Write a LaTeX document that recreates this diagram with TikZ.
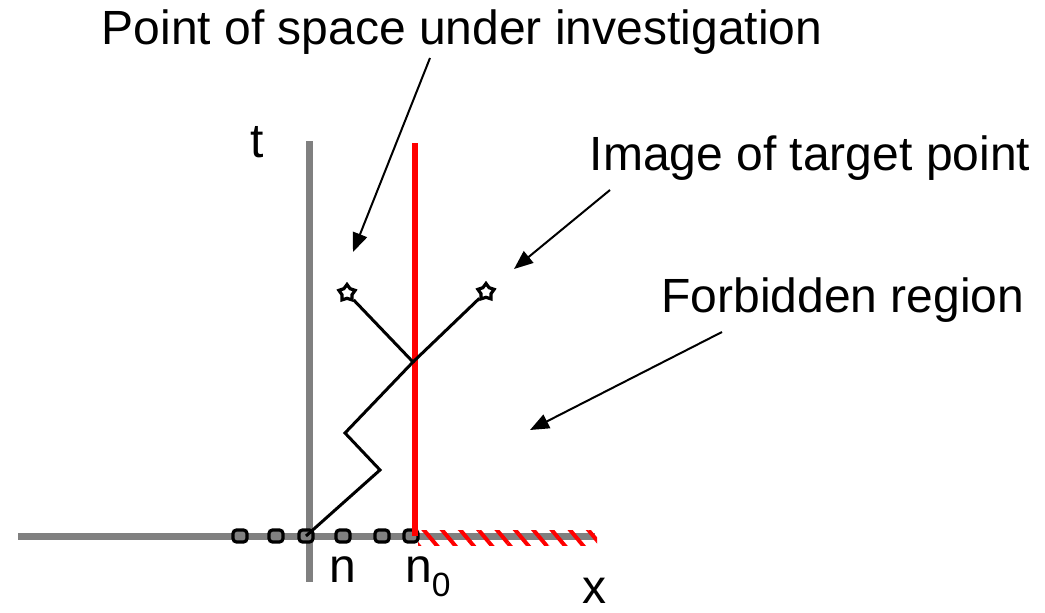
\documentclass[tikz,border=0pt]{standalone}
\usepackage{fontspec}
\setmainfont{Liberation Sans}
\usepackage{xcolor}
\usepackage{tikz}
\usetikzlibrary{arrows.meta, positioning, calc, shapes.geometric, patterns.meta}

\begin{document}
\begin{tikzpicture}[
      x=1pt, y=-1pt,
      lbl/.style={font=\fontsize{48}{58}\selectfont, inner sep=0pt},
      axis/.style={draw=gray, line width=7pt},
      wall/.style={draw=red, line width=6pt},
      walk/.style={draw=black, line width=3pt, line join=miter},
      site/.style={rectangle, rounded corners=3.5pt, draw=black, fill=gray,
        line width=3.2pt, minimum width=14pt, minimum height=12pt, inner sep=0pt},
      endpt/.style={star, star points=5, star point ratio=1.6, draw=black, fill=white,
        line width=3.2pt, minimum size=17pt, inner sep=0pt},
      ptr/.style={-{Triangle[length=19pt,width=15pt]}, line width=2pt, draw=black}
    ]
      \useasboundingbox (0,0) rectangle (1045,613);
      % axes
      \draw[axis] (18,536) -- (595,536);
      \draw[axis] (309,141) -- (309,582);
      % lattice sites
      \foreach \xs/\nm in {240/s1, 276/s2, 306/s3, 343/s4, 382/s5, 411/s6}
        \node[site] (\nm) at (\xs,536) {};
      % forbidden half line
      \node[rectangle, minimum width=179pt, minimum height=15pt, inner sep=0pt,
        fill=white, pattern={Lines[angle=-50, distance=14pt, line width=4pt]},
        pattern color=red, anchor=west] (bar) at (416,538) {};
      \draw[wall] (415,143) -- (415,536);
      % random walk
      \coordinate (k1) at (380,470);
      \coordinate (k2) at (345,433);
      \coordinate (hit) at (413,362);
      \node[endpt] (src) at (347,293) {};
      \node[endpt] (img) at (486,292) {};
      \draw[walk] (s3.center) -- (k1) -- (k2) -- (hit) -- (src);
      \draw[walk] (hit) -- (img);
      % labels
      \node[lbl, anchor=base] (tl) at (257,157) {t};
      \node[lbl, anchor=base] (nl) at (343,582) {n};
      \node[lbl, anchor=base west] (n0l) at (405,582) {n$_{\fontsize{34}{40}\selectfont\mathrm{0}}$};
      \node[lbl, anchor=base] (xl) at (594,603) {x};
      \node[lbl, anchor=base] (ptxt) at (462,45) {Point of space under investigation};
      \node[lbl, anchor=base] (itxt) at (810,170) {Image of target point};
      \node[lbl, anchor=base] (ftxt) at (843,312) {Forbidden region};
      % pointers
      \coordinate (pa) at (430,58);
      \coordinate (pb) at (353,252);
      \coordinate (ia) at (610,190);
      \coordinate (ib) at (514,269);
      \coordinate (fa) at (722,332);
      \coordinate (fb) at (530,430);
      \draw[ptr] (pa) -- (pb);
      \draw[ptr] (ia) -- (ib);
      \draw[ptr] (fa) -- (fb);
    \end{tikzpicture}
\end{document}
